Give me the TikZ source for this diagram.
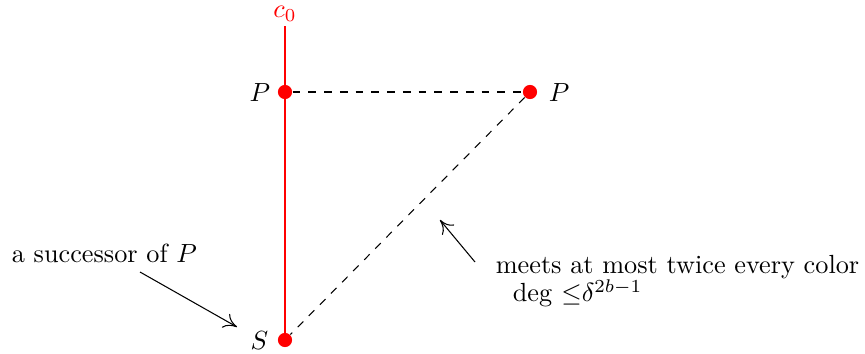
\documentclass[tikz,border=0pt]{standalone}
\usetikzlibrary{arrows.meta}
\begin{document}
\begin{tikzpicture}[x=0.381pt,y=-0.381pt,
  dot/.style={circle,fill=red,inner sep=0pt,minimum size=5.4pt},
  lbl/.style={inner sep=0.5pt},
  dashline/.style={dashed,line width=0.4pt},
  pointer/.style={-{To[length=5pt,width=6pt]},line width=0.4pt}]
\useasboundingbox (0,0) rectangle (865,353);
\node[dot] (p1) at (285,92) {};
\node[dot] (p2) at (530,92) {};
\node[dot] (s) at (285,340) {};
\node[lbl,text=red] (c0) at (285,14) {$c_0$};
\coordinate (top) at (285,26);
\node[lbl,anchor=east] (lp1) at (272,93) {$P$};
\node[lbl,anchor=west] (lp2) at (547,93) {$P$};
\node[lbl,anchor=east] (ls) at (270,341) {$S$};
\draw[red,line width=0.4pt] (top) -- (s.center);
\draw[dashline] (p1) -- (p2);
\draw[dashline] (p2) -- (s);
\node[lbl,anchor=west] (t1) at (10,253) {a successor of $P$};
\coordinate (a1) at (140,272);
\draw[pointer] (a1) -- (237,327);
\node[lbl,anchor=north west,align=left] (t2) at (494,253)
  {meets at most twice every color\\[-1pt]\hspace*{6.5pt}$\deg\,{\leq}\delta^{2b-1}$};
\coordinate (a2) at (475,262);
\draw[pointer] (a2) -- (440,220);
\end{tikzpicture}
\end{document}
